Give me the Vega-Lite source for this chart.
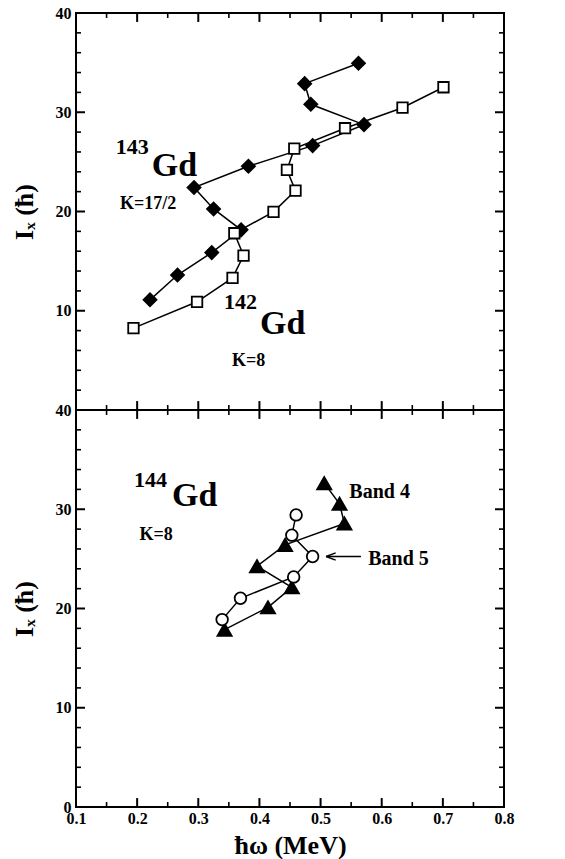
{
  "$schema": "https://vega.github.io/schema/vega-lite/v6.json",
  "background": "white",
  "padding": {"left": 10, "top": 4, "right": 10, "bottom": 2},
  "spacing": 0,
  "bounds": "flush",
  "resolve": {"scale": {"shape": "independent", "fill": "independent", "size": "independent"}},
  "config": {
    "view": {"stroke": "black", "strokeWidth": 2, "fill": null},
    "font": "Liberation Serif",
    "axis": {
      "domain": false,
      "ticks": false,
      "grid": false,
      "labelFont": "Liberation Serif",
      "labelFontWeight": "bold",
      "labelFontSize": 16,
      "labelColor": "black",
      "labelFlush": false,
      "labelOverlap": false,
      "labelBound": false,
      "titleFont": "Liberation Serif",
      "titleFontWeight": "bold",
      "titleFontSize": 26,
      "titleColor": "black"
    }
  },
  "datasets": {
    "upper": [
      {"nucleus": "143Gd", "omega": 0.221, "ix": 11.1},
      {"nucleus": "143Gd", "omega": 0.266, "ix": 13.6},
      {"nucleus": "143Gd", "omega": 0.322, "ix": 15.86},
      {"nucleus": "143Gd", "omega": 0.37, "ix": 18.15},
      {"nucleus": "143Gd", "omega": 0.325, "ix": 20.26},
      {"nucleus": "143Gd", "omega": 0.293, "ix": 22.41},
      {"nucleus": "143Gd", "omega": 0.382, "ix": 24.56},
      {"nucleus": "143Gd", "omega": 0.487, "ix": 26.64},
      {"nucleus": "143Gd", "omega": 0.571, "ix": 28.75},
      {"nucleus": "143Gd", "omega": 0.484, "ix": 30.8},
      {"nucleus": "143Gd", "omega": 0.474, "ix": 32.88},
      {"nucleus": "143Gd", "omega": 0.562, "ix": 34.93},
      {"nucleus": "142Gd", "omega": 0.194, "ix": 8.25},
      {"nucleus": "142Gd", "omega": 0.298, "ix": 10.9},
      {"nucleus": "142Gd", "omega": 0.356, "ix": 13.31},
      {"nucleus": "142Gd", "omega": 0.374, "ix": 15.56},
      {"nucleus": "142Gd", "omega": 0.359, "ix": 17.81},
      {"nucleus": "142Gd", "omega": 0.423, "ix": 19.96},
      {"nucleus": "142Gd", "omega": 0.459, "ix": 22.1},
      {"nucleus": "142Gd", "omega": 0.445, "ix": 24.19},
      {"nucleus": "142Gd", "omega": 0.457, "ix": 26.33},
      {"nucleus": "142Gd", "omega": 0.54, "ix": 28.39},
      {"nucleus": "142Gd", "omega": 0.634, "ix": 30.46},
      {"nucleus": "142Gd", "omega": 0.701, "ix": 32.52}
    ],
    "lower": [
      {"band": "Band 4", "omega": 0.343, "ix": 17.87},
      {"band": "Band 4", "omega": 0.414, "ix": 20.12},
      {"band": "Band 4", "omega": 0.453, "ix": 22.14},
      {"band": "Band 4", "omega": 0.396, "ix": 24.26},
      {"band": "Band 4", "omega": 0.442, "ix": 26.41},
      {"band": "Band 4", "omega": 0.539, "ix": 28.57},
      {"band": "Band 4", "omega": 0.531, "ix": 30.55},
      {"band": "Band 4", "omega": 0.506, "ix": 32.63},
      {"band": "Band 5", "omega": 0.339, "ix": 18.88},
      {"band": "Band 5", "omega": 0.369, "ix": 21.03},
      {"band": "Band 5", "omega": 0.456, "ix": 23.18},
      {"band": "Band 5", "omega": 0.487, "ix": 25.24},
      {"band": "Band 5", "omega": 0.453, "ix": 27.39},
      {"band": "Band 5", "omega": 0.46, "ix": 29.43}
    ],
    "xMajor": [{"v": 0.1}, {"v": 0.2}, {"v": 0.3}, {"v": 0.4}, {"v": 0.5}, {"v": 0.6}, {"v": 0.7}, {"v": 0.8}],
    "xMinor": [{"v": 0.15}, {"v": 0.25}, {"v": 0.35}, {"v": 0.45}, {"v": 0.55}, {"v": 0.65}, {"v": 0.75}],
    "yMajor": [{"v": 0}, {"v": 10}, {"v": 20}, {"v": 30}, {"v": 40}],
    "yMinor": [{"v": 2}, {"v": 4}, {"v": 6}, {"v": 8}, {"v": 12}, {"v": 14}, {"v": 16}, {"v": 18}, {"v": 22}, {"v": 24}, {"v": 26}, {"v": 28}, {"v": 32}, {"v": 34}, {"v": 36}, {"v": 38}]
  },
  "vconcat": [
    {
      "width": 428,
      "height": 397,
      "layer": [
        {
          "data": {"name": "upper"},
          "mark": {"type": "line", "color": "black", "strokeWidth": 1.5},
          "encoding": {
            "x": {
              "field": "omega", "type": "quantitative",
              "scale": {"domain": [0.1, 0.8], "nice": false, "zero": false},
              "axis": null
            },
            "y": {
              "field": "ix", "type": "quantitative",
              "scale": {"domain": [0, 40], "nice": false, "zero": false},
              "axis": {"orient": "left", "values": [10, 20, 30, 40], "ticks": false, "domain": false, "grid": false, "labelPadding": 5, "title": "Iₓ (ħ)", "titlePadding": 18}
            },
            "detail": {"field": "nucleus"},
            "order": {"field": "ix"}
          }
        },
        {
          "data": {"name": "xMajor"},
          "mark": {"type": "rule", "color": "black", "strokeWidth": 2},
          "encoding": {"x": {"field": "v", "type": "quantitative", "axis": null}, "y": {"datum": 0, "type": "quantitative", "axis": null}, "y2": {"datum": 0.9}}
        },
        {
          "data": {"name": "xMajor"},
          "mark": {"type": "rule", "color": "black", "strokeWidth": 2},
          "encoding": {"x": {"field": "v", "type": "quantitative", "axis": null}, "y": {"datum": 40, "type": "quantitative", "axis": null}, "y2": {"datum": 39.1}}
        },
        {
          "data": {"name": "xMinor"},
          "mark": {"type": "rule", "color": "black", "strokeWidth": 1.6},
          "encoding": {"x": {"field": "v", "type": "quantitative", "axis": null}, "y": {"datum": 0, "type": "quantitative", "axis": null}, "y2": {"datum": 0.5}}
        },
        {
          "data": {"name": "xMinor"},
          "mark": {"type": "rule", "color": "black", "strokeWidth": 1.6},
          "encoding": {"x": {"field": "v", "type": "quantitative", "axis": null}, "y": {"datum": 40, "type": "quantitative", "axis": null}, "y2": {"datum": 39.5}}
        },
        {
          "data": {"name": "yMajor"},
          "mark": {"type": "rule", "color": "black", "strokeWidth": 2},
          "encoding": {"y": {"field": "v", "type": "quantitative", "axis": null}, "x": {"datum": 0.1, "type": "quantitative", "axis": null}, "x2": {"datum": 0.1147}}
        },
        {
          "data": {"name": "yMajor"},
          "mark": {"type": "rule", "color": "black", "strokeWidth": 2},
          "encoding": {"y": {"field": "v", "type": "quantitative", "axis": null}, "x": {"datum": 0.8, "type": "quantitative", "axis": null}, "x2": {"datum": 0.7853}}
        },
        {
          "data": {"name": "yMinor"},
          "mark": {"type": "rule", "color": "black", "strokeWidth": 1.6},
          "encoding": {"y": {"field": "v", "type": "quantitative", "axis": null}, "x": {"datum": 0.1, "type": "quantitative", "axis": null}, "x2": {"datum": 0.1082}}
        },
        {
          "data": {"name": "yMinor"},
          "mark": {"type": "rule", "color": "black", "strokeWidth": 1.6},
          "encoding": {"y": {"field": "v", "type": "quantitative", "axis": null}, "x": {"datum": 0.8, "type": "quantitative", "axis": null}, "x2": {"datum": 0.7918}}
        },
        {
          "data": {"name": "upper"},
          "mark": {"type": "point", "filled": true, "stroke": "black", "strokeWidth": 1.8, "opacity": 1},
          "encoding": {
            "x": {"field": "omega", "type": "quantitative", "axis": null},
            "y": {"field": "ix", "type": "quantitative", "axis": null},
            "shape": {"field": "nucleus", "scale": {"domain": ["143Gd", "142Gd"], "range": ["diamond", "square"]}, "legend": null},
            "fill": {"field": "nucleus", "scale": {"domain": ["143Gd", "142Gd"], "range": ["black", "white"]}, "legend": null},
            "size": {"field": "nucleus", "scale": {"domain": ["143Gd", "142Gd"], "range": [170, 110]}, "legend": null}
          }
        },
        {
          "data": {"values": [{"t": "143", "omega": 0.165, "ix": 25.83}, {"t": "142", "omega": 0.342, "ix": 10.16}]},
          "mark": {"type": "text", "align": "left", "baseline": "alphabetic", "font": "Liberation Serif", "fontWeight": "bold", "fontSize": 22, "color": "black"},
          "encoding": {
            "x": {"field": "omega", "type": "quantitative", "axis": null},
            "y": {"field": "ix", "type": "quantitative", "axis": null},
            "text": {"field": "t"}
          }
        },
        {
          "data": {"values": [{"t": "Gd", "omega": 0.224, "ix": 23.58}, {"t": "Gd", "omega": 0.401, "ix": 7.7}]},
          "mark": {"type": "text", "align": "left", "baseline": "alphabetic", "font": "Liberation Serif", "fontWeight": "bold", "fontSize": 34, "color": "black"},
          "encoding": {
            "x": {"field": "omega", "type": "quantitative", "axis": null},
            "y": {"field": "ix", "type": "quantitative", "axis": null},
            "text": {"field": "t"}
          }
        },
        {
          "data": {"values": [{"t": "K=17/2", "omega": 0.172, "ix": 20.23}, {"t": "K=8", "omega": 0.355, "ix": 4.45}]},
          "mark": {"type": "text", "align": "left", "baseline": "alphabetic", "font": "Liberation Serif", "fontWeight": "bold", "fontSize": 18, "color": "black"},
          "encoding": {
            "x": {"field": "omega", "type": "quantitative", "axis": null},
            "y": {"field": "ix", "type": "quantitative", "axis": null},
            "text": {"field": "t"}
          }
        }
      ],
      "resolve": {"axis": {"x": "independent", "y": "independent"}}
    },
    {
      "width": 428,
      "height": 397,
      "layer": [
        {
          "data": {"name": "lower"},
          "mark": {"type": "line", "color": "black", "strokeWidth": 1.5},
          "encoding": {
            "x": {
              "field": "omega", "type": "quantitative",
              "scale": {"domain": [0.1, 0.8], "nice": false, "zero": false},
              "axis": {"orient": "bottom", "values": [0.1, 0.2, 0.3, 0.4, 0.5, 0.6, 0.7, 0.8], "format": ".1f", "ticks": false, "domain": false, "grid": false, "labelPadding": 3, "title": "ħω (MeV)", "titlePadding": 6}
            },
            "y": {
              "field": "ix", "type": "quantitative",
              "scale": {"domain": [0, 40], "nice": false, "zero": false},
              "axis": {"orient": "left", "values": [0, 10, 20, 30, 40], "ticks": false, "domain": false, "grid": false, "labelPadding": 5, "title": "Iₓ (ħ)", "titlePadding": 18}
            },
            "detail": {"field": "band"},
            "order": {"field": "ix"}
          }
        },
        {
          "data": {"name": "xMajor"},
          "mark": {"type": "rule", "color": "black", "strokeWidth": 2},
          "encoding": {"x": {"field": "v", "type": "quantitative", "axis": null}, "y": {"datum": 0, "type": "quantitative", "axis": null}, "y2": {"datum": 0.9}}
        },
        {
          "data": {"name": "xMajor"},
          "mark": {"type": "rule", "color": "black", "strokeWidth": 2},
          "encoding": {"x": {"field": "v", "type": "quantitative", "axis": null}, "y": {"datum": 40, "type": "quantitative", "axis": null}, "y2": {"datum": 39.1}}
        },
        {
          "data": {"name": "xMinor"},
          "mark": {"type": "rule", "color": "black", "strokeWidth": 1.6},
          "encoding": {"x": {"field": "v", "type": "quantitative", "axis": null}, "y": {"datum": 0, "type": "quantitative", "axis": null}, "y2": {"datum": 0.5}}
        },
        {
          "data": {"name": "xMinor"},
          "mark": {"type": "rule", "color": "black", "strokeWidth": 1.6},
          "encoding": {"x": {"field": "v", "type": "quantitative", "axis": null}, "y": {"datum": 40, "type": "quantitative", "axis": null}, "y2": {"datum": 39.5}}
        },
        {
          "data": {"name": "yMajor"},
          "mark": {"type": "rule", "color": "black", "strokeWidth": 2},
          "encoding": {"y": {"field": "v", "type": "quantitative", "axis": null}, "x": {"datum": 0.1, "type": "quantitative", "axis": null}, "x2": {"datum": 0.1147}}
        },
        {
          "data": {"name": "yMajor"},
          "mark": {"type": "rule", "color": "black", "strokeWidth": 2},
          "encoding": {"y": {"field": "v", "type": "quantitative", "axis": null}, "x": {"datum": 0.8, "type": "quantitative", "axis": null}, "x2": {"datum": 0.7853}}
        },
        {
          "data": {"name": "yMinor"},
          "mark": {"type": "rule", "color": "black", "strokeWidth": 1.6},
          "encoding": {"y": {"field": "v", "type": "quantitative", "axis": null}, "x": {"datum": 0.1, "type": "quantitative", "axis": null}, "x2": {"datum": 0.1082}}
        },
        {
          "data": {"name": "yMinor"},
          "mark": {"type": "rule", "color": "black", "strokeWidth": 1.6},
          "encoding": {"y": {"field": "v", "type": "quantitative", "axis": null}, "x": {"datum": 0.8, "type": "quantitative", "axis": null}, "x2": {"datum": 0.7918}}
        },
        {
          "data": {"name": "lower"},
          "mark": {"type": "point", "filled": true, "stroke": "black", "strokeWidth": 1.8, "opacity": 1},
          "encoding": {
            "x": {"field": "omega", "type": "quantitative", "axis": null},
            "y": {"field": "ix", "type": "quantitative", "axis": null},
            "shape": {"field": "band", "scale": {"domain": ["Band 4", "Band 5"], "range": ["triangle-up", "circle"]}, "legend": null},
            "fill": {"field": "band", "scale": {"domain": ["Band 4", "Band 5"], "range": ["black", "white"]}, "legend": null},
            "size": {"field": "band", "scale": {"domain": ["Band 4", "Band 5"], "range": [200, 135]}, "legend": null}
          }
        },
        {
          "data": {"values": [{"omega": 0.566, "omega_tip": 0.509, "ix": 25.24}]},
          "mark": {"type": "rule", "color": "black", "strokeWidth": 1.5},
          "encoding": {
            "x": {"field": "omega", "type": "quantitative", "axis": null},
            "x2": {"field": "omega_tip"},
            "y": {"field": "ix", "type": "quantitative", "axis": null}
          }
        },
        {
          "data": {"values": [{"omega_tip": 0.509, "ix": 25.24}]},
          "mark": {"type": "point", "shape": "M0,0L1.6,-0.6M0,0L1.6,0.6", "size": 144, "filled": false, "stroke": "black", "strokeWidth": 1.5, "opacity": 1},
          "encoding": {
            "x": {"field": "omega_tip", "type": "quantitative", "axis": null},
            "y": {"field": "ix", "type": "quantitative", "axis": null}
          }
        },
        {
          "data": {"values": [{"t": "144", "omega": 0.195, "ix": 32.23}]},
          "mark": {"type": "text", "align": "left", "baseline": "alphabetic", "font": "Liberation Serif", "fontWeight": "bold", "fontSize": 22, "color": "black"},
          "encoding": {
            "x": {"field": "omega", "type": "quantitative", "axis": null},
            "y": {"field": "ix", "type": "quantitative", "axis": null},
            "text": {"field": "t"}
          }
        },
        {
          "data": {"values": [{"t": "Gd", "omega": 0.257, "ix": 30.31}]},
          "mark": {"type": "text", "align": "left", "baseline": "alphabetic", "font": "Liberation Serif", "fontWeight": "bold", "fontSize": 34, "color": "black"},
          "encoding": {
            "x": {"field": "omega", "type": "quantitative", "axis": null},
            "y": {"field": "ix", "type": "quantitative", "axis": null},
            "text": {"field": "t"}
          }
        },
        {
          "data": {"values": [{"t": "K=8", "omega": 0.204, "ix": 26.88}]},
          "mark": {"type": "text", "align": "left", "baseline": "alphabetic", "font": "Liberation Serif", "fontWeight": "bold", "fontSize": 18, "color": "black"},
          "encoding": {
            "x": {"field": "omega", "type": "quantitative", "axis": null},
            "y": {"field": "ix", "type": "quantitative", "axis": null},
            "text": {"field": "t"}
          }
        },
        {
          "data": {"values": [{"t": "Band 4", "omega": 0.547, "ix": 31.15}, {"t": "Band 5", "omega": 0.578, "ix": 24.36}]},
          "mark": {"type": "text", "align": "left", "baseline": "alphabetic", "font": "Liberation Serif", "fontWeight": "bold", "fontSize": 20, "color": "black"},
          "encoding": {
            "x": {"field": "omega", "type": "quantitative", "axis": null},
            "y": {"field": "ix", "type": "quantitative", "axis": null},
            "text": {"field": "t"}
          }
        }
      ],
      "resolve": {"axis": {"x": "independent", "y": "independent"}}
    }
  ]
}
